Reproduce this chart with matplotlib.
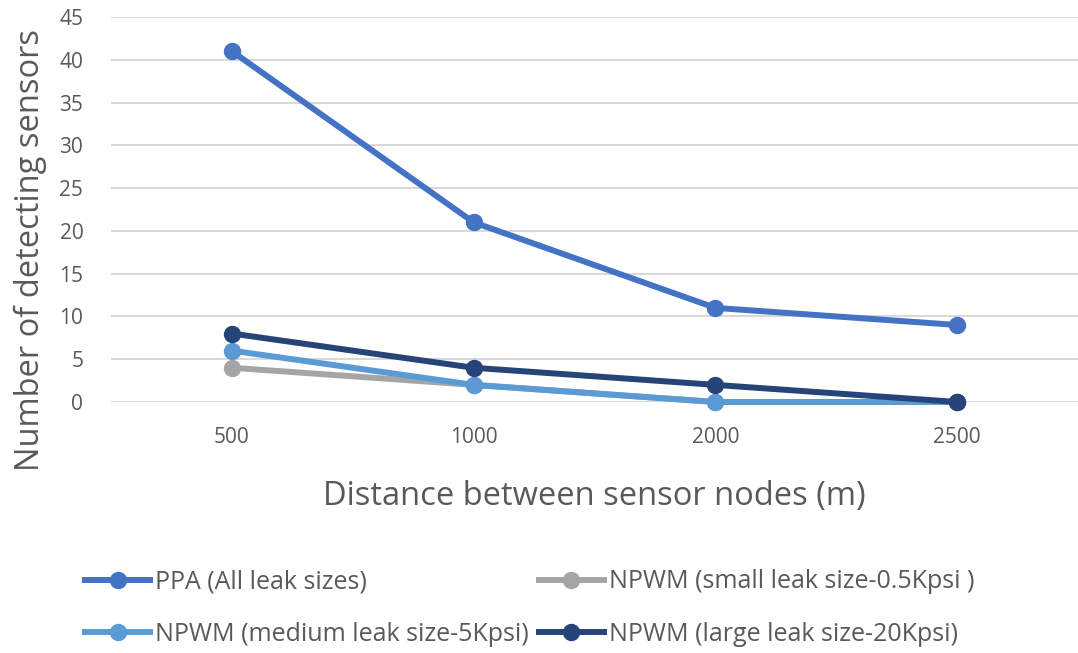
import matplotlib.pyplot as plt

# chart data
distances = ['500', '1000', '2000', '2500']
ppa_all = [41, 21, 11, 9]
npwm_small = [4, 2, 0, 0]
npwm_medium = [6, 2, 0, 0]
npwm_large = [8, 4, 2, 0]
y_ticks = list(range(0, 50, 5))

series = [
    ('PPA (All leak sizes)', ppa_all, '#4472C4'),
    ('NPWM (small leak size-0.5Kpsi )', npwm_small, '#A5A5A5'),
    ('NPWM (medium leak size-5Kpsi)', npwm_medium, '#5B9BD5'),
    ('NPWM (large leak size-20Kpsi)', npwm_large, '#264478'),
]

plt.rcParams['font.family'] = ['Open Sans', 'DejaVu Sans']

fig = plt.figure(figsize=(10.78, 6.53), dpi=100)
ax = fig.add_axes([0.103, 0.3844, 0.897, 0.5896])

x = list(range(len(distances)))
handles = {}
for label, values, color in series:
    line, = ax.plot(x, values, color=color, linewidth=4.3, marker='o',
                    markersize=11.5, label=label, clip_on=False, zorder=3)
    handles[label] = line

ax.set_xlim(-0.5, len(distances) - 0.5)
ax.set_ylim(0, 45)
ax.set_yticks(y_ticks)
ax.set_xticks(x)
ax.set_xticklabels(distances)
ax.tick_params(axis='both', length=0, labelsize=15, colors='#595959')
ax.tick_params(axis='x', pad=18)
ax.tick_params(axis='y', pad=20)
ax.grid(True, axis='y', color='#D9D9D9', linewidth=1.5)
ax.set_axisbelow(True)
for spine in ax.spines.values():
    spine.set_visible(False)

ax.set_xlabel('Distance between sensor nodes (m)', fontsize=23.5, color='#595959',
              labelpad=23)
fig.text(0.028, 0.617, 'Number of detecting sensors', rotation=90, fontsize=23.5,
         color='#595959', ha='center', va='center')

# legend is filled column-wise, so reorder for row-wise reading
order = [series[0][0], series[2][0], series[1][0], series[3][0]]
fig.legend([handles[k] for k in order], order, ncol=2, frameon=False,
           loc='upper left', bbox_to_anchor=(0.079, 0.128), fontsize=18,
           handlelength=2.6, handletextpad=0.2, columnspacing=0.4,
           labelspacing=1.1, borderpad=0, borderaxespad=0,
           labelcolor='#595959')

fig.savefig('out.png', dpi=100)
